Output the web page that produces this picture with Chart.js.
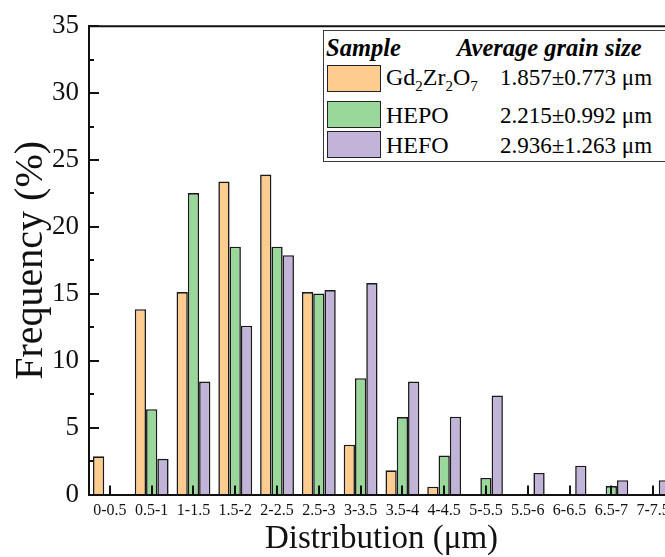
<!DOCTYPE html>
<html>
<head>
<meta charset="utf-8">
<script src="https://cdn.jsdelivr.net/npm/chart.js@4.4.1/dist/chart.umd.min.js"></script>
<style>
  html, body { margin: 0; padding: 0; background: #ffffff; overflow: hidden; width: 665px; height: 557px; }
  #wrap { position: relative; width: 700px; height: 557px; }
  #c { position: absolute; left: 0; top: 0; }
  .lgbox { position: absolute; left: 323px; top: 30px; width: 380px; height: 132px; border: 1.5px solid #3a3a3a; box-sizing: border-box; background: #ffffff; }
  .t { position: absolute; font-family: 'Liberation Serif', 'Times New Roman', serif; color: #000; white-space: nowrap; }
  .hd { font-size: 24.5px; line-height: 24px; font-weight: bold; font-style: italic; }
  .nm { font-size: 24px; line-height: 24px; }
  .vl { font-size: 23px; line-height: 23px; }
  .sb { font-size: 15px; position: relative; top: 6px; }
  .sw { position: absolute; left: 327px; width: 54px; border: 1.5px solid #222; box-sizing: border-box; }
</style>
</head>
<body>
<div id="wrap">
  <canvas id="c" width="700" height="557"></canvas>
  <div class="lgbox"></div>
  <div class="t hd" style="left:326px; top:36px;">Sample</div>
  <div class="t hd" style="left:457px; top:36px;">Average grain size</div>
  <div class="sw" id="sw0" style="top:65px; height:27px;"></div>
  <div class="sw" id="sw1" style="top:101px; height:27px;"></div>
  <div class="sw" id="sw2" style="top:131px; height:27px;"></div>
  <div class="t nm" style="left:386px; top:65px;">Gd<span class="sb">2</span>Zr<span class="sb">2</span>O<span class="sb">7</span></div>
  <div class="t nm" style="left:386px; top:103px;">HEPO</div>
  <div class="t nm" style="left:386px; top:133px;">HEFO</div>
  <div class="t vl" style="left:500px; top:66px;">1.857±0.773 μm</div>
  <div class="t vl" style="left:500px; top:104px;">2.215±0.992 μm</div>
  <div class="t vl" style="left:500px; top:134px;">2.936±1.263 μm</div>
</div>
<script>
// ---- data ----
const categories = ['0-0.5','0.5-1','1-1.5','1.5-2','2-2.5','2.5-3','3-3.5','3.5-4','4-4.5','5-5.5','5.5-6','6-6.5','6.5-7','7-7.5'];
const seriesNames = ['Gd2Zr2O7', 'HEPO', 'HEFO'];
const gdzrValues = [2.85, 13.85, 15.13, 23.39, 23.91, 15.13, 3.72, 1.81, 0.58, 0, 0, 0, 0, 0];
const hepoValues = [0, 6.38, 22.53, 18.52, 18.52, 15.03, 8.69, 5.79, 2.91, 1.24, 0, 0, 0.63, 0];
const hefoValues = [0, 2.67, 8.44, 12.62, 17.88, 15.28, 15.80, 8.44, 5.81, 7.39, 1.61, 2.15, 1.07, 1.07];
const yMajorTicks = [0, 5, 10, 15, 20, 25, 30, 35];
const yMinorTicks = [2.5, 7.5, 12.5, 17.5, 22.5, 27.5, 32.5];

const colors = ['#FFCC8F', '#9AD79A', '#C2B3D9'];
['sw0','sw1','sw2'].forEach((id, i) => { document.getElementById(id).style.background = colors[i]; });

const FONT = "'Liberation Serif', 'Times New Roman', serif";
const INK = '#111111';

const inwardTicks = {
  id: 'inwardTicks',
  afterDatasetsDraw(chart) {
    const { ctx, chartArea: a, scales: { x, y } } = chart;
    ctx.save();
    ctx.strokeStyle = INK;
    ctx.lineWidth = 2;
    ctx.beginPath();
    ctx.moveTo(a.left - 1, a.top);
    ctx.lineTo(a.right, a.top);
    ctx.lineTo(a.right, a.bottom);
    ctx.stroke();
    ctx.beginPath();
    yMajorTicks.forEach(v => {
      const py = Math.round(y.getPixelForValue(v));
      ctx.moveTo(a.left, py); ctx.lineTo(a.left + 10, py);
    });
    yMinorTicks.forEach(v => {
      const py = Math.round(y.getPixelForValue(v));
      ctx.moveTo(a.left, py); ctx.lineTo(a.left + 5, py);
    });
    categories.forEach((c, i) => {
      const px = Math.round(x.getPixelForValue(i));
      ctx.moveTo(px, a.bottom); ctx.lineTo(px, a.bottom - 9);
    });
    ctx.stroke();
    ctx.restore();
  }
};

new Chart(document.getElementById('c'), {
  type: 'bar',
  data: {
    labels: categories,
    datasets: [gdzrValues, hepoValues, hefoValues].map((vals, i) => ({
      label: seriesNames[i],
      data: vals,
      backgroundColor: colors[i],
      borderColor: '#1a1a1a',
      borderWidth: 1.6,
      categoryPercentage: 0.81,
      barPercentage: 1.0
    }))
  },
  options: {
    responsive: false,
    animation: false,
    devicePixelRatio: 1,
    layout: { padding: { top: 20, right: 26, left: 0, bottom: 0 } },
    plugins: { legend: { display: false }, tooltip: { enabled: false } },
    scales: {
      x: {
        type: 'category',
        offset: true,
        grid: { display: true, drawOnChartArea: false, drawTicks: false },
        border: { display: true, color: INK, width: 2 },
        ticks: { font: { family: FONT, size: 16 }, color: INK, padding: 7, maxRotation: 0, autoSkip: false },
        title: { display: true, text: 'Distribution (μm)', font: { family: FONT, size: 33, lineHeight: 1.1 }, color: INK, padding: { top: 0, bottom: 0 } },
        afterFit(s) { s.height = 62.5; }
      },
      y: {
        min: 0,
        max: 35,
        ticks: { stepSize: 5, font: { family: FONT, size: 27 }, color: INK, padding: 10 },
        grid: { display: true, drawOnChartArea: false, drawTicks: false },
        border: { display: true, color: INK, width: 2 },
        title: { display: true, text: 'Frequency (%)', font: { family: FONT, size: 40 }, color: INK, padding: { top: 7, bottom: 0 } },
        afterFit(s) { s.width = 89; }
      }
    }
  },
  plugins: [inwardTicks]
});
</script>
</body>
</html>
